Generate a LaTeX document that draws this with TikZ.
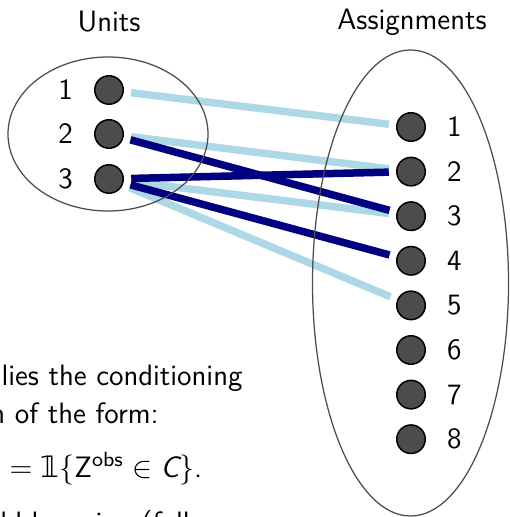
\documentclass[tikz,border=0pt]{standalone}
\usepackage{amsmath}
\usepackage{fontspec}
\newfontfamily\symfont{DejaVu Sans}
\usetikzlibrary{shapes.geometric}
\definecolor{linklight}{RGB}{173,216,230}
\definecolor{linkdark}{RGB}{0,0,128}

\begin{document}
\begin{tikzpicture}[
  x=0.4pt,y=-0.4pt,
  font=\sffamily\fontsize{11.8}{14.2}\selectfont,
  dot/.style={circle,draw=black,fill=black!70,line width=0.6pt,
    minimum size=11.4pt,inner sep=0pt,outer sep=3.2pt},
  set/.style={ellipse,draw=black!70,line width=0.5pt,inner sep=0pt},
  lnk/.style={line width=3pt},
  txt/.style={anchor=base west,inner sep=0pt}]
\useasboundingbox (0,0) rectangle (509,517);

% headings
\node (unitshead) at (109,22) {Units};
\node (assignhead) at (412,22) {Assignments};

% units (left) and assignments (right)
\foreach \i/\y in {1/90,2/134,3/179}
  \node[dot,label={[label distance=2pt]left:\i}] (u\i) at (109,\y) {};
\foreach \i in {1,...,8}
  \node[dot,label={[label distance=2pt]right:\i}] (a\i) at (411,127+44.6*\i-44.6) {};

% links: light first, dark on top
\foreach \s/\t in {1/1,2/2,3/3,3/5}
  \draw[lnk,linklight] (u\s) -- (a\t);
\foreach \s/\t in {2/3,3/2,3/4}
  \draw[lnk,linkdark] (u\s) -- (a\t);

% the two sets
\node[set,minimum width=80pt,minimum height=61.6pt] (unitset) at (108,134) {};
\node[set,minimum width=78.4pt,minimum height=186.4pt] (assignset) at (410.5,283) {};

% text of the slide behind, cut at the edges
\node[txt] (txta) at (1,385) {lies the conditioning};
\node[txt] (txtb) at (-10,423) {n of the form:};
\node[txt] (txtc) at (9,477)
  {$=\text{\symfont\symbol{"1D7D9}}\{\mathsf{Z}^{\mathsf{obs}}\in\text{\itshape C}\}$.};
\node[txt] (txtd) at (0,532) {ld be using (full};
\end{tikzpicture}
\end{document}
